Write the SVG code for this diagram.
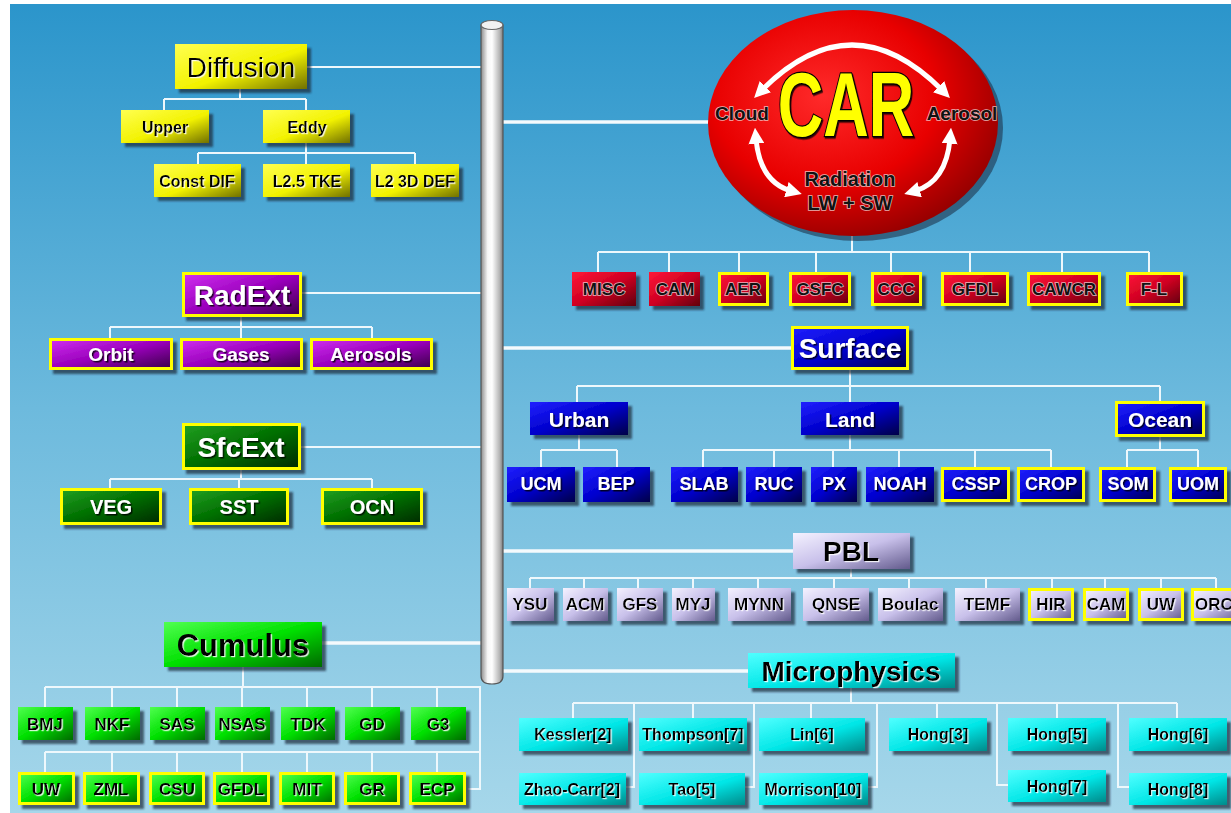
<svg xmlns="http://www.w3.org/2000/svg" width="1231" height="813" viewBox="0 0 1231 813">
<defs>
<linearGradient id="bg" x1="0" y1="0" x2="0" y2="1">
<stop offset="0" stop-color="#2B95CB"/><stop offset="0.5" stop-color="#6DBADD"/><stop offset="1" stop-color="#A6D7EA"/>
</linearGradient>
<linearGradient id="gYel" x1="0" y1="0" x2="1" y2="1"><stop offset="0" stop-color="#FFFF50"/><stop offset="0.55" stop-color="#F2F200"/><stop offset="1" stop-color="#707000"/></linearGradient>
<linearGradient id="gRed" x1="0" y1="0" x2="1" y2="1"><stop offset="0" stop-color="#FF1838"/><stop offset="0.5" stop-color="#D00022"/><stop offset="1" stop-color="#60000C"/></linearGradient>
<linearGradient id="gBlue" x1="0" y1="0" x2="1" y2="1"><stop offset="0" stop-color="#2020FF"/><stop offset="0.5" stop-color="#0000CC"/><stop offset="1" stop-color="#000048"/></linearGradient>
<linearGradient id="gPurp" x1="0" y1="0" x2="1" y2="1"><stop offset="0" stop-color="#D030F0"/><stop offset="0.5" stop-color="#9A00BC"/><stop offset="1" stop-color="#3A0048"/></linearGradient>
<linearGradient id="gDGrn" x1="0" y1="0" x2="1" y2="1"><stop offset="0" stop-color="#22A022"/><stop offset="0.5" stop-color="#006E00"/><stop offset="1" stop-color="#002A00"/></linearGradient>
<linearGradient id="gGrn" x1="0" y1="0" x2="1" y2="1"><stop offset="0" stop-color="#50FF50"/><stop offset="0.5" stop-color="#00E000"/><stop offset="1" stop-color="#006A00"/></linearGradient>
<linearGradient id="gLav" x1="0" y1="0" x2="1" y2="1"><stop offset="0" stop-color="#F4F2FF"/><stop offset="0.5" stop-color="#C8C0EA"/><stop offset="1" stop-color="#625A8C"/></linearGradient>
<linearGradient id="gCyan" x1="0" y1="0" x2="1" y2="1"><stop offset="0" stop-color="#50FFFF"/><stop offset="0.55" stop-color="#00E6E6"/><stop offset="1" stop-color="#008A8A"/></linearGradient>
<radialGradient id="gCar" cx="0.4" cy="0.38" r="0.65"><stop offset="0" stop-color="#FF2A2A"/><stop offset="0.6" stop-color="#E80000"/><stop offset="1" stop-color="#980000"/></radialGradient>
<linearGradient id="gPil" x1="0" y1="0" x2="1" y2="0"><stop offset="0" stop-color="#8C8C8C"/><stop offset="0.3" stop-color="#F6F6F6"/><stop offset="0.5" stop-color="#FFFFFF"/><stop offset="0.85" stop-color="#B4B4B4"/><stop offset="1" stop-color="#7A7A7A"/></linearGradient>
<filter id="bs" x="-20%" y="-20%" width="150%" height="160%"><feDropShadow dx="4" dy="4" stdDeviation="1.3" flood-color="#1A2A3A" flood-opacity="0.7"/></filter>
<filter id="tsd" x="-10%" y="-20%" width="130%" height="150%"><feDropShadow dx="1.5" dy="1.5" stdDeviation="0.6" flood-color="#000" flood-opacity="0.8"/></filter>
<filter id="tsl" x="-10%" y="-20%" width="130%" height="150%"><feDropShadow dx="1.2" dy="1.2" stdDeviation="0.4" flood-color="#FFF" flood-opacity="0.85"/></filter>
<marker id="ah" viewBox="0 0 10 10" refX="3" refY="5" markerWidth="3.2" markerHeight="3.2" orient="auto-start-reverse" markerUnits="strokeWidth"><path d="M0,0 L10,5 L0,10 z" fill="#FFFFFF"/></marker>
<style>
text{font-family:"Liberation Sans",Arial,sans-serif;text-anchor:middle;dominant-baseline:central;font-weight:bold}
rect{filter:url(#bs)}
.yb{stroke:#FFFF00;stroke-width:3}
.yel{fill:url(#gYel)} .red{fill:url(#gRed)} .blu{fill:url(#gBlue)} .pur{fill:url(#gPurp)}
.dgr{fill:url(#gDGrn)} .grn{fill:url(#gGrn)} .lav{fill:url(#gLav)} .cya{fill:url(#gCyan)}
.tw{fill:#FFFFFF;filter:url(#tsd)} .tk{fill:#000000;filter:url(#tsl)}
.tr{fill:#111111;stroke:#F0F0F0;stroke-width:1.6;stroke-opacity:0.75;paint-order:stroke}
.h{font-size:28px} .s14{font-size:16px} .s15{font-size:16px} .s17{font-size:17px} .s18{font-size:18px} .s19{font-size:19px} .s20{font-size:20px}
.c1{fill:none;stroke:#EEF8FC;stroke-width:2}
.c3{fill:none;stroke:#F4FAFD;stroke-width:3.5}
.arr{fill:none;stroke:#FFFFFF;stroke-width:5;marker-start:url(#ah);marker-end:url(#ah)}
</style>
</defs>
<rect x="0" y="0" width="1231" height="813" fill="#FFFFFF" style="filter:none"/>
<rect x="10" y="4" width="1221" height="809" fill="url(#bg)" style="filter:none"/>

<g id="connectors">
<path class="c1" d="M307,67 H481 M240,89 V99 M164,99 H306 M164,99 V110 M306,99 V110 M306,143 V153 M198,153 H415 M198,153 V164 M306,153 V164 M415,153 V164"/>
<path class="c1" d="M302,293 H481 M241,317 V327 M110,327 H372 M110,327 V338 M241,327 V338 M372,327 V338"/>
<path class="c1" d="M300,447 H481 M241,470 V479 M110,479 H372 M110,479 V488 M239,479 V488 M372,479 V488"/>
<path class="c3" d="M322,643 H481"/>
<path class="c1" d="M243,667 V687 M45,687 H480 V789 H468 M45,687 V707 M112,687 V707 M177,687 V707 M242,687 V707 M307,687 V707 M372,687 V707 M437,687 V707 M45,752 H480 M45,752 V772 M112,752 V772 M177,752 V772 M242,752 V772 M307,752 V772 M372,752 V772 M437,752 V772"/>
<path class="c3" d="M503,122 H710"/>
<path class="c1" d="M852,236 V252 M598,252 H1149 M598,252 V272 M669,252 V272 M739,252 V272 M816,252 V272 M891,252 V272 M970,252 V272 M1062,252 V272 M1149,252 V272"/>
<path class="c3" d="M503,348 H791"/>
<path class="c1" d="M850,370 V386 M577,386 H1160 M577,386 V402 M850,386 V402 M1160,386 V401 M579,435 V450 M541,450 H617 M541,450 V467 M617,450 V467 M850,435 V450 M703,450 H1051 M703,450 V467 M774,450 V467 M833,450 V467 M899,450 V467 M975,450 V467 M1051,450 V467 M1160,437 V450 M1127,450 H1198 M1127,450 V467 M1198,450 V467"/>
<path class="c3" d="M503,551 H793"/>
<path class="c1" d="M851,569 V578 M530,578 H1216 M530,578 V588 M584,578 V588 M638,578 V588 M693,578 V588 M758,578 V588 M834,578 V588 M909,578 V588 M986,578 V588 M1052,578 V588 M1105,578 V588 M1161,578 V588 M1216,578 V588"/>
<path class="c3" d="M503,671 H748"/>
<path class="c1" d="M851,688 V703 M573,703 H1177 M573,703 V718 M634,703 V787 H626 M693,703 V718 M754,703 V787 H745 M811,703 V718 M877,703 V787 H868 M937,703 V718 M997,703 V785 H1008 M1057,703 V718 M1118,703 V787 H1129 M1177,703 V718"/>
</g>

<g id="pillar">
<path d="M481,25 V676 Q481,684 492,684 Q503,684 503,676 V25 Z" fill="url(#gPil)" stroke="#555" stroke-width="1.2"/>
<ellipse cx="492" cy="25" rx="11" ry="4.5" fill="#F2F2F2" stroke="#666" stroke-width="1.2"/>
</g>

<g id="diffusion">
<rect class="yel" x="175" y="44" width="132" height="45"/>
<text x="241" y="67" style="font-size:28px;font-weight:normal" class="tk">Diffusion</text>
</g>
<g id="upper"><rect class="yel" x="121" y="110" width="88" height="33"/><text class="tk s14" x="165" y="127">Upper</text></g>
<g id="eddy"><rect class="yel" x="263" y="110" width="87" height="33"/><text class="tk s14" x="307" y="127">Eddy</text></g>
<g id="constdif"><rect class="yel" x="154" y="164" width="87" height="33"/><text class="tk s14" x="197" y="181">Const DIF</text></g>
<g id="l25tke"><rect class="yel" x="263" y="164" width="87" height="33"/><text class="tk s14" x="307" y="181">L2.5 TKE</text></g>
<g id="l23ddef"><rect class="yel" x="371" y="164" width="88" height="33"/><text class="tk s14" x="415" y="181">L2 3D DEF</text></g>

<g id="radext"><rect class="pur yb" x="183.5" y="273.5" width="117" height="42"/><text class="tw h" x="242" y="295">RadExt</text></g>
<g id="orbit"><rect class="pur yb" x="50.5" y="339.5" width="121" height="29"/><text class="tw s19" x="111" y="354">Orbit</text></g>
<g id="gases"><rect class="pur yb" x="181.5" y="339.5" width="120" height="29"/><text class="tw s19" x="241" y="354">Gases</text></g>
<g id="aerosols"><rect class="pur yb" x="311.5" y="339.5" width="120" height="29"/><text class="tw s19" x="371" y="354">Aerosols</text></g>

<g id="sfcext"><rect class="dgr yb" x="183.5" y="424.5" width="116" height="44"/><text class="tw h" x="241" y="447">SfcExt</text></g>
<g id="veg"><rect class="dgr yb" x="61.5" y="489.5" width="99" height="34"/><text class="tw s20" x="111" y="507">VEG</text></g>
<g id="sst"><rect class="dgr yb" x="190.5" y="489.5" width="97" height="34"/><text class="tw s20" x="239" y="507">SST</text></g>
<g id="ocn"><rect class="dgr yb" x="322.5" y="489.5" width="99" height="34"/><text class="tw s20" x="372" y="507">OCN</text></g>

<g id="cumulus"><rect class="grn" x="164" y="622" width="158" height="45"/><text class="tk" style="font-size:31px" x="243" y="645">Cumulus</text></g>
<g id="bmj"><rect class="grn" x="18" y="707" width="55" height="33"/><text class="tk s17" x="45" y="724">BMJ</text></g>
<g id="nkf"><rect class="grn" x="85" y="707" width="55" height="33"/><text class="tk s17" x="112" y="724">NKF</text></g>
<g id="sas"><rect class="grn" x="150" y="707" width="55" height="33"/><text class="tk s17" x="177" y="724">SAS</text></g>
<g id="nsas"><rect class="grn" x="215" y="707" width="55" height="33"/><text class="tk s17" x="242" y="724">NSAS</text></g>
<g id="tdk"><rect class="grn" x="281" y="707" width="54" height="33"/><text class="tk s17" x="308" y="724">TDK</text></g>
<g id="gd"><rect class="grn" x="345" y="707" width="55" height="33"/><text class="tk s17" x="372" y="724">GD</text></g>
<g id="g3"><rect class="grn" x="411" y="707" width="55" height="33"/><text class="tk s17" x="438" y="724">G3</text></g>
<g id="uw-cu"><rect class="grn yb" x="19.5" y="773.5" width="54" height="30"/><text class="tk s17" x="46" y="789">UW</text></g>
<g id="zml"><rect class="grn yb" x="84.5" y="773.5" width="54" height="30"/><text class="tk s17" x="111" y="789">ZML</text></g>
<g id="csu"><rect class="grn yb" x="150.5" y="773.5" width="53" height="30"/><text class="tk s17" x="177" y="789">CSU</text></g>
<g id="gfdl-cu"><rect class="grn yb" x="214.5" y="773.5" width="54" height="30"/><text class="tk s17" x="241" y="789">GFDL</text></g>
<g id="mit"><rect class="grn yb" x="280.5" y="773.5" width="53" height="30"/><text class="tk s17" x="307" y="789">MIT</text></g>
<g id="gr"><rect class="grn yb" x="345.5" y="773.5" width="53" height="30"/><text class="tk s17" x="372" y="789">GR</text></g>
<g id="ecp"><rect class="grn yb" x="410.5" y="773.5" width="54" height="30"/><text class="tk s17" x="437" y="789">ECP</text></g>

<g id="car">
<ellipse cx="858" cy="128" rx="145" ry="113" fill="#1A2A40" opacity="0.55"/>
<ellipse cx="853" cy="123" rx="145" ry="113" fill="url(#gCar)"/>
<path class="arr" d="M762,90 Q852,0 942,90"/>
<path class="arr" d="M756,139 Q760,182 791,191"/>
<path class="arr" d="M950,139 Q946,182 915,191"/>
<text transform="translate(846,136) scale(0.7,1)" x="0" y="0" style="font-size:90px;font-weight:bold;fill:#FFFF00;stroke:#000;stroke-width:2.5;paint-order:stroke;dominant-baseline:alphabetic;filter:url(#tsd)">CAR</text>
<text class="tr" style="font-size:19px" x="742" y="113">Cloud</text>
<text class="tr" style="font-size:19px" x="962" y="113">Aerosol</text>
<text class="tr s20" x="850" y="179">Radiation</text>
<text class="tr s20" x="850" y="203">LW + SW</text>
</g>

<g id="misc"><rect class="red" x="572" y="272" width="64" height="34"/><text class="tr s17" x="604" y="289">MISC</text></g>
<g id="cam-r"><rect class="red" x="649" y="272" width="51" height="34"/><text class="tr s17" x="675" y="289">CAM</text></g>
<g id="aer"><rect class="red yb" x="719.5" y="273.5" width="48" height="31"/><text class="tr s17" x="743" y="289">AER</text></g>
<g id="gsfc"><rect class="red yb" x="790.5" y="273.5" width="59" height="31"/><text class="tr s17" x="820" y="289">GSFC</text></g>
<g id="ccc"><rect class="red yb" x="872.5" y="273.5" width="48" height="31"/><text class="tr s17" x="896" y="289">CCC</text></g>
<g id="gfdl-r"><rect class="red yb" x="942.5" y="273.5" width="65" height="31"/><text class="tr s17" x="975" y="289">GFDL</text></g>
<g id="cawcr"><rect class="red yb" x="1028.5" y="273.5" width="71" height="31"/><text class="tr s17" x="1064" y="289">CAWCR</text></g>
<g id="fl"><rect class="red yb" x="1127.5" y="273.5" width="54" height="31"/><text class="tr s17" x="1154" y="289">F-L</text></g>

<g id="surface"><rect class="blu yb" x="792.5" y="327.5" width="115" height="41"/><text class="tw h" x="850" y="348">Surface</text></g>
<g id="urban"><rect class="blu" x="530" y="402" width="98" height="33"/><text class="tw" style="font-size:21px" x="579" y="419">Urban</text></g>
<g id="land"><rect class="blu" x="801" y="402" width="98" height="33"/><text class="tw" style="font-size:21px" x="850" y="419">Land</text></g>
<g id="ocean"><rect class="blu yb" x="1116.5" y="402.5" width="87" height="33"/><text class="tw" style="font-size:21px" x="1160" y="419">Ocean</text></g>
<g id="ucm"><rect class="blu" x="507" y="467" width="68" height="35"/><text class="tw s18" x="541" y="484">UCM</text></g>
<g id="bep"><rect class="blu" x="583" y="467" width="67" height="35"/><text class="tw s18" x="616" y="484">BEP</text></g>
<g id="slab"><rect class="blu" x="671" y="467" width="67" height="35"/><text class="tw s18" x="704" y="484">SLAB</text></g>
<g id="ruc"><rect class="blu" x="746" y="467" width="56" height="35"/><text class="tw s18" x="774" y="484">RUC</text></g>
<g id="px"><rect class="blu" x="811" y="467" width="46" height="35"/><text class="tw s18" x="834" y="484">PX</text></g>
<g id="noah"><rect class="blu" x="866" y="467" width="68" height="35"/><text class="tw s18" x="900" y="484">NOAH</text></g>
<g id="cssp"><rect class="blu yb" x="942.5" y="468.5" width="66" height="32"/><text class="tw s18" x="976" y="484">CSSP</text></g>
<g id="crop"><rect class="blu yb" x="1018.5" y="468.5" width="65" height="32"/><text class="tw s18" x="1051" y="484">CROP</text></g>
<g id="som"><rect class="blu yb" x="1100.5" y="468.5" width="54" height="32"/><text class="tw s18" x="1128" y="484">SOM</text></g>
<g id="uom"><rect class="blu yb" x="1170.5" y="468.5" width="55" height="32"/><text class="tw s18" x="1198" y="484">UOM</text></g>

<g id="pbl"><rect class="lav" x="793" y="533" width="117" height="36"/><text class="tk h" x="851" y="551">PBL</text></g>
<g id="ysu"><rect class="lav" x="507" y="588" width="47" height="33"/><text class="tk s17" x="530" y="604">YSU</text></g>
<g id="acm"><rect class="lav" x="563" y="588" width="45" height="33"/><text class="tk s17" x="585" y="604">ACM</text></g>
<g id="gfs"><rect class="lav" x="617" y="588" width="46" height="33"/><text class="tk s17" x="640" y="604">GFS</text></g>
<g id="myj"><rect class="lav" x="672" y="588" width="43" height="33"/><text class="tk s17" x="693" y="604">MYJ</text></g>
<g id="mynn"><rect class="lav" x="728" y="588" width="63" height="33"/><text class="tk s17" x="759" y="604">MYNN</text></g>
<g id="qnse"><rect class="lav" x="803" y="588" width="66" height="33"/><text class="tk s17" x="836" y="604">QNSE</text></g>
<g id="boulac"><rect class="lav" x="878" y="588" width="65" height="33"/><text class="tk s17" x="910" y="604">Boulac</text></g>
<g id="temf"><rect class="lav" x="955" y="588" width="65" height="33"/><text class="tk s17" x="987" y="604">TEMF</text></g>
<g id="hir"><rect class="lav yb" x="1029.5" y="589.5" width="43" height="30"/><text class="tk s17" x="1051" y="604">HIR</text></g>
<g id="cam-p"><rect class="lav yb" x="1084.5" y="589.5" width="43" height="30"/><text class="tk s17" x="1106" y="604">CAM</text></g>
<g id="uw-p"><rect class="lav yb" x="1139.5" y="589.5" width="43" height="30"/><text class="tk s17" x="1161" y="604">UW</text></g>
<g id="orc"><rect class="lav yb" x="1192.5" y="589.5" width="50" height="30"/><text class="tk s17" x="1214" y="604">ORC</text></g>

<g id="microphysics"><rect class="cya" x="748" y="653" width="207" height="35"/><text class="tk h" x="851" y="671">Microphysics</text></g>
<g id="kessler"><rect class="cya" x="519" y="718" width="109" height="33"/><text class="tk s15" x="573" y="734">Kessler[2]</text></g>
<g id="thompson"><rect class="cya" x="639" y="718" width="108" height="33"/><text class="tk s15" x="693" y="734">Thompson[7]</text></g>
<g id="lin"><rect class="cya" x="759" y="718" width="106" height="33"/><text class="tk s15" x="812" y="734">Lin[6]</text></g>
<g id="hong3"><rect class="cya" x="889" y="718" width="98" height="33"/><text class="tk s15" x="938" y="734">Hong[3]</text></g>
<g id="hong5"><rect class="cya" x="1008" y="718" width="98" height="33"/><text class="tk s15" x="1057" y="734">Hong[5]</text></g>
<g id="hong6"><rect class="cya" x="1129" y="718" width="98" height="33"/><text class="tk s15" x="1178" y="734">Hong[6]</text></g>
<g id="zhaocarr"><rect class="cya" x="519" y="773" width="107" height="32"/><text class="tk s15" x="572" y="789">Zhao-Carr[2]</text></g>
<g id="tao"><rect class="cya" x="639" y="773" width="106" height="32"/><text class="tk s15" x="692" y="789">Tao[5]</text></g>
<g id="morrison"><rect class="cya" x="759" y="773" width="109" height="32"/><text class="tk s15" x="813" y="789">Morrison[10]</text></g>
<g id="hong7"><rect class="cya" x="1008" y="770" width="98" height="32"/><text class="tk s15" x="1057" y="786">Hong[7]</text></g>
<g id="hong8"><rect class="cya" x="1129" y="773" width="98" height="32"/><text class="tk s15" x="1178" y="789">Hong[8]</text></g>
</svg>
